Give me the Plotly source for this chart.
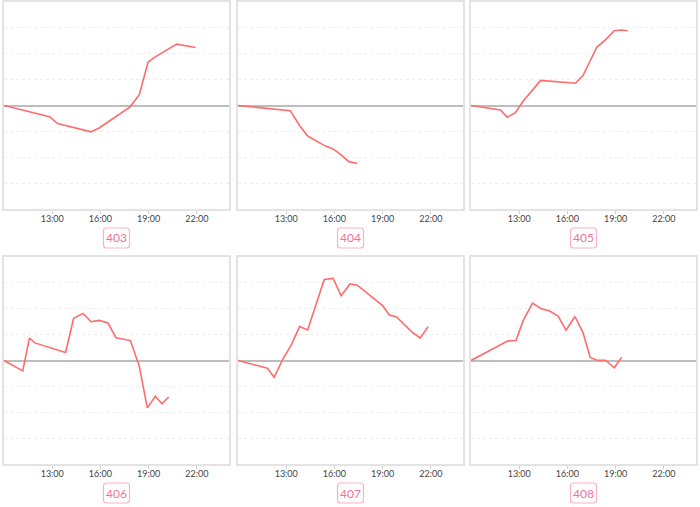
import plotly.graph_objects as go

# ---------------- data ----------------
labels = ["403", "404", "405", "406", "407", "408"]

t403 = ["10:00", "12:50", "13:20", "15:25", "15:55", "17:50", "18:25", "18:58", "19:25", "20:45", "21:55"]
v403 = [0, -0.43, -0.70, -1.02, -0.87, -0.06, 0.42, 1.68, 1.88, 2.37, 2.24]

t404 = ["10:00", "13:15", "13:50", "14:20", "15:25", "15:55", "16:25", "16:55", "17:25"]
v404 = [0, -0.20, -0.77, -1.18, -1.56, -1.68, -1.91, -2.18, -2.23]

t405 = ["10:00", "11:50", "12:15", "12:45", "13:15", "14:20", "16:30", "16:58", "17:50", "18:20", "18:55", "19:22", "19:45"]
v405 = [0, -0.17, -0.45, -0.29, 0.17, 0.97, 0.86, 1.16, 2.26, 2.52, 2.89, 2.92, 2.89]

t406 = ["10:00", "11:10", "11:35", "11:55", "13:50", "14:20", "14:55", "15:25", "15:55", "16:28", "16:58", "17:52", "18:25", "18:55", "19:25", "19:50", "20:15"]
v406 = [0, -0.40, 0.87, 0.68, 0.31, 1.63, 1.82, 1.50, 1.55, 1.45, 0.88, 0.77, -0.22, -1.83, -1.38, -1.67, -1.41]

t407 = ["10:00", "11:50", "12:15", "12:48", "13:18", "13:50", "14:20", "14:52", "15:22", "15:55", "16:25", "16:58", "17:25", "19:00", "19:25", "19:52", "20:15", "20:48", "21:20", "21:50"]
v407 = [0, -0.30, -0.65, 0.06, 0.58, 1.31, 1.18, 2.22, 3.13, 3.17, 2.50, 2.96, 2.91, 2.12, 1.76, 1.68, 1.45, 1.12, 0.87, 1.31]

t408 = ["10:00", "12:18", "12:48", "13:15", "13:50", "14:22", "14:52", "15:25", "15:55", "16:28", "16:58", "17:25", "17:50", "18:22", "18:55", "19:22"]
v408 = [0, 0.76, 0.77, 1.55, 2.22, 2.00, 1.92, 1.72, 1.17, 1.70, 1.08, 0.12, 0.01, 0.01, -0.28, 0.12]

times = [t403, t404, t405, t406, t407, t408]
values = [v403, v404, v405, v406, v407, v408]

tick_times = ["13:00", "16:00", "19:00", "22:00"]
day = "2023-06-08"

# ---------------- layout helpers ----------------
W, H = 700, 507
col_px = [(4, 229), (238, 463), (471, 696)]
row_px = [(2, 209), (257, 464)]

LINE = "#ff6b6b"
FRAME = "#e3e3e3"

fig = go.Figure()
shapes = []
annotations = []

def rounded_rect(x0, y0, x1, y1, r):
    def px(x):
        return x / W
    def py(y):
        return 1 - y / H
    p = (f"M {px(x0 + r)},{py(y0)} L {px(x1 - r)},{py(y0)} "
         f"Q {px(x1)},{py(y0)} {px(x1)},{py(y0 + r)} L {px(x1)},{py(y1 - r)} "
         f"Q {px(x1)},{py(y1)} {px(x1 - r)},{py(y1)} L {px(x0 + r)},{py(y1)} "
         f"Q {px(x0)},{py(y1)} {px(x0)},{py(y1 - r)} L {px(x0)},{py(y0 + r)} "
         f"Q {px(x0)},{py(y0)} {px(x0 + r)},{py(y0)} Z")
    return p

for i in range(6):
    r, c = divmod(i, 3)
    n = i + 1
    xa = "x" if n == 1 else f"x{n}"
    ya = "y" if n == 1 else f"y{n}"
    xkey = "xaxis" if n == 1 else f"xaxis{n}"
    ykey = "yaxis" if n == 1 else f"yaxis{n}"
    x0, x1 = col_px[c]
    y0, y1 = row_px[r]

    fig.add_trace(go.Scatter(
        x=[f"{day} {t}" for t in times[i]], y=values[i],
        mode="lines", line=dict(color=LINE, width=1.6),
        xaxis=xa, yaxis=ya, showlegend=False, hoverinfo="skip"))

    fig.layout[xkey] = dict(
        domain=[x0 / W, x1 / W], anchor=ya, type="date",
        range=[f"{day} 10:00", f"{day} 23:59:59"],
        tickvals=[f"{day} {t}" for t in tick_times],
        ticktext=tick_times,
        ticks="outside", ticklen=3, tickcolor="#d0d0d0",
        ticklabelstandoff=-3,
        tickfont=dict(size=9, color="#444", family="Lato, Open Sans, sans-serif"),
        showgrid=False, zeroline=False,
        showline=True, mirror=True, linecolor=FRAME, linewidth=1.5,
        fixedrange=True)
    fig.layout[ykey] = dict(
        domain=[1 - y1 / H, 1 - y0 / H], anchor=xa,
        range=[-4, 4], dtick=1, showticklabels=False,
        showgrid=True, gridcolor="#eeeeee", griddash="dot", gridwidth=1,
        zeroline=True, zerolinecolor="#bdbdbd", zerolinewidth=1.5,
        showline=True, mirror=True, linecolor=FRAME, linewidth=1.5,
        fixedrange=True)

    cx = (x0 + x1) / 2
    by0 = y1 + 19
    by1 = by0 + 20
    shapes.append(dict(type="path", xref="paper", yref="paper",
                       path=rounded_rect(cx - 13, by0, cx + 13, by1, 3),
                       line=dict(color="#f9b3c8", width=1.2), fillcolor="white"))
    annotations.append(dict(xref="paper", yref="paper", x=cx / W, y=1 - (by0 + by1) / 2 / H,
                            text=labels[i], showarrow=False,
                            font=dict(size=12, color="#f0739b", family="Lato, Open Sans, sans-serif"),
                            xanchor="center", yanchor="middle"))

fig.update_layout(
    width=W, height=H,
    margin=dict(l=0, r=0, t=0, b=0),
    paper_bgcolor="white", plot_bgcolor="white",
    shapes=shapes, annotations=annotations,
)

fig.write_html("out.html", config={"displayModeBar": False},
               post_script="document.body.style.margin='0';document.body.style.overflow='hidden';")
